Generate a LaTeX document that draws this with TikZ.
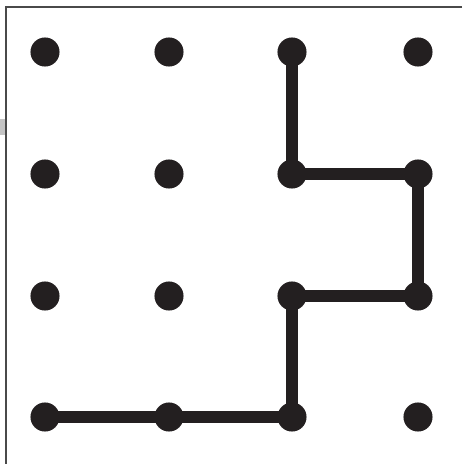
\documentclass[tikz,border=0pt]{standalone}
\definecolor{ink}{HTML}{231F20}
\definecolor{framec}{HTML}{4A4A4A}
\definecolor{markc}{HTML}{C4C4C4}
\tikzset{
  dotnode/.style={circle,fill=ink,draw=none,minimum size=21.8pt,inner sep=0pt},
  pathline/.style={draw=ink,line width=9.4pt},
  framel/.style={draw=framec,line width=1.5pt}
}
\begin{document}
\begin{tikzpicture}[x=0.75pt,y=-0.75pt]
\useasboundingbox (0,0) rectangle (462,464);
\fill[markc] (0,119) rectangle (5,134.5);
\draw[framel] (462,6.5) -- (5.5,6.5) -- (5.5,464);
\foreach \i/\x in {1/45,2/169,3/292,4/418}{
  \foreach \j/\y in {1/52,2/174,3/296,4/417}{
    \node[dotnode] (d\i\j) at (\x,\y) {};
  }
}
\draw[pathline] (d31.center) -- (d32.center) -- (d42.center) -- (d43.center) -- (d33.center) -- (d34.center) -- (d24.center) -- (d14.center);
\end{tikzpicture}
\end{document}
